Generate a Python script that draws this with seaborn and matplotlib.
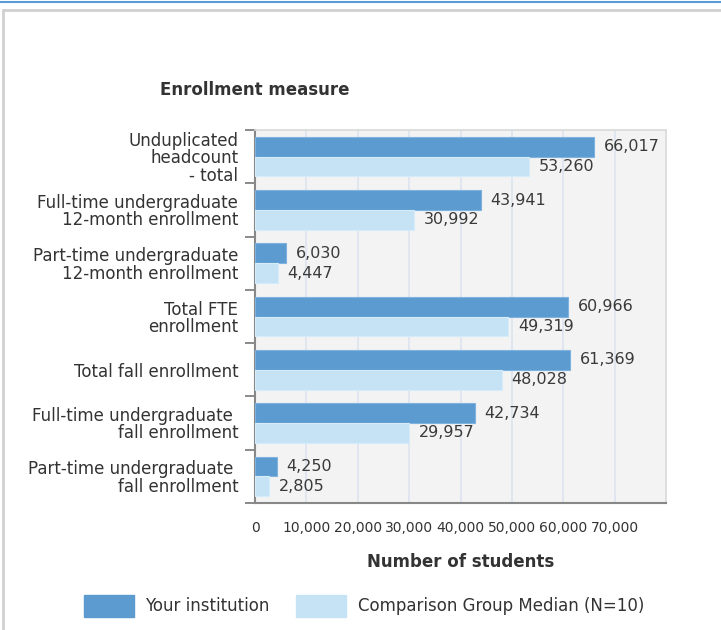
import matplotlib
matplotlib.use("Agg")
import matplotlib.pyplot as plt
import seaborn as sns
import pandas as pd
from matplotlib.patches import Patch, Rectangle
from matplotlib.lines import Line2D
from matplotlib.ticker import FuncFormatter, FixedLocator

categories = [
    "Unduplicated\nheadcount\n- total",
    "Full-time undergraduate\n12-month enrollment",
    "Part-time undergraduate\n12-month enrollment",
    "Total FTE\nenrollment",
    "Total fall enrollment",
    "Full-time undergraduate \nfall enrollment",
    "Part-time undergraduate \nfall enrollment",
]
series_names = ["Your institution", "Comparison Group Median (N=10)"]
institution = [66017, 43941, 6030, 60966, 61369, 42734, 4250]
comparison = [53260, 30992, 4447, 49319, 48028, 29957, 2805]
x_ticks = [0, 10000, 20000, 30000, 40000, 50000, 60000, 70000]

DARK = "#5b9bd0"
LIGHT = "#c6e3f6"
TXT = "#333333"

sns.set_theme(style="white")
plt.rcParams["font.family"] = ["DejaVu Sans"]

df = pd.DataFrame({
    "measure": categories * 2,
    "value": institution + comparison,
    "series": [series_names[0]] * len(categories) + [series_names[1]] * len(categories),
})

fig = plt.figure(figsize=(7.21, 6.3), dpi=100)
ax = fig.add_axes([255 / 721, 1 - 503 / 630, (666 - 255) / 721, (503 - 130) / 630])
ax.set_facecolor("#f3f3f3")

sns.barplot(data=df, y="measure", x="value", hue="series", orient="h",
            palette=[DARK, LIGHT], width=0.74, saturation=1, dodge=True,
            legend=False, ax=ax, zorder=3)

for cont, ec in zip(ax.containers, ["#7fb2de", "#d6ecf9"]):
    for b in cont:
        b.set_edgecolor(ec)
        b.set_linewidth(0.8)
    ax.bar_label(cont, labels=[f"{v:,.0f}" for v in cont.datavalues],
                 padding=7, fontsize=11.5, color="#3a3a3a", zorder=5)

ax.set_xlim(0, 80000)
ax.set_ylim(6.5, -0.5)
ax.xaxis.set_major_locator(FixedLocator(x_ticks))
ax.xaxis.set_major_formatter(FuncFormatter(lambda v, p: f"{v:,.0f}"))
ax.grid(axis="x", color="#dbe4f0", linewidth=1.2, zorder=0)
ax.set_axisbelow(True)

ax.tick_params(axis="x", length=0, pad=13, labelsize=10, labelcolor=TXT)
ax.tick_params(axis="y", which="major", length=0, pad=12, labelsize=12, labelcolor=TXT)
for lab in ax.get_yticklabels():
    lab.set_linespacing(0.95)
ax.set_yticks([i - 0.5 for i in range(len(categories) + 1)], minor=True)
ax.tick_params(axis="y", which="minor", length=7, width=1.2, color="#777777", left=True)

for s in ["top", "right"]:
    ax.spines[s].set_color("#d9d9d9")
    ax.spines[s].set_linewidth(1.2)
for s in ["left", "bottom"]:
    ax.spines[s].set_color("#888888")
    ax.spines[s].set_linewidth(1.5)

ax.set_ylabel("")
ax.set_xlabel("Number of students", fontsize=12, fontweight="bold", color=TXT, labelpad=13)
fig.text(160 / 721, 1 - 90 / 630, "Enrollment measure", fontsize=12, fontweight="bold",
         color=TXT, ha="left", va="center")

handles = [Patch(facecolor=DARK, edgecolor=DARK), Patch(facecolor=LIGHT, edgecolor=LIGHT)]
fig.legend(handles, series_names, loc="center", bbox_to_anchor=(364 / 721, 1 - 606 / 630),
           ncol=2, frameon=False, fontsize=12, handlelength=3.0, handleheight=1.6,
           handletextpad=0.7, columnspacing=1.6, labelcolor=TXT)

# outer panel framing
fig.add_artist(Line2D([0, 1], [1 - 1.5 / 630, 1 - 1.5 / 630], color="#5b9bd5", linewidth=1.5,
                      transform=fig.transFigure))
fig.add_artist(Rectangle((3 / 721, -0.05), 1.2, 1 - 10 / 630 + 0.05, transform=fig.transFigure,
                         fill=False, edgecolor="#d0d0d0", linewidth=2))

fig.savefig("out.png", dpi=100)
